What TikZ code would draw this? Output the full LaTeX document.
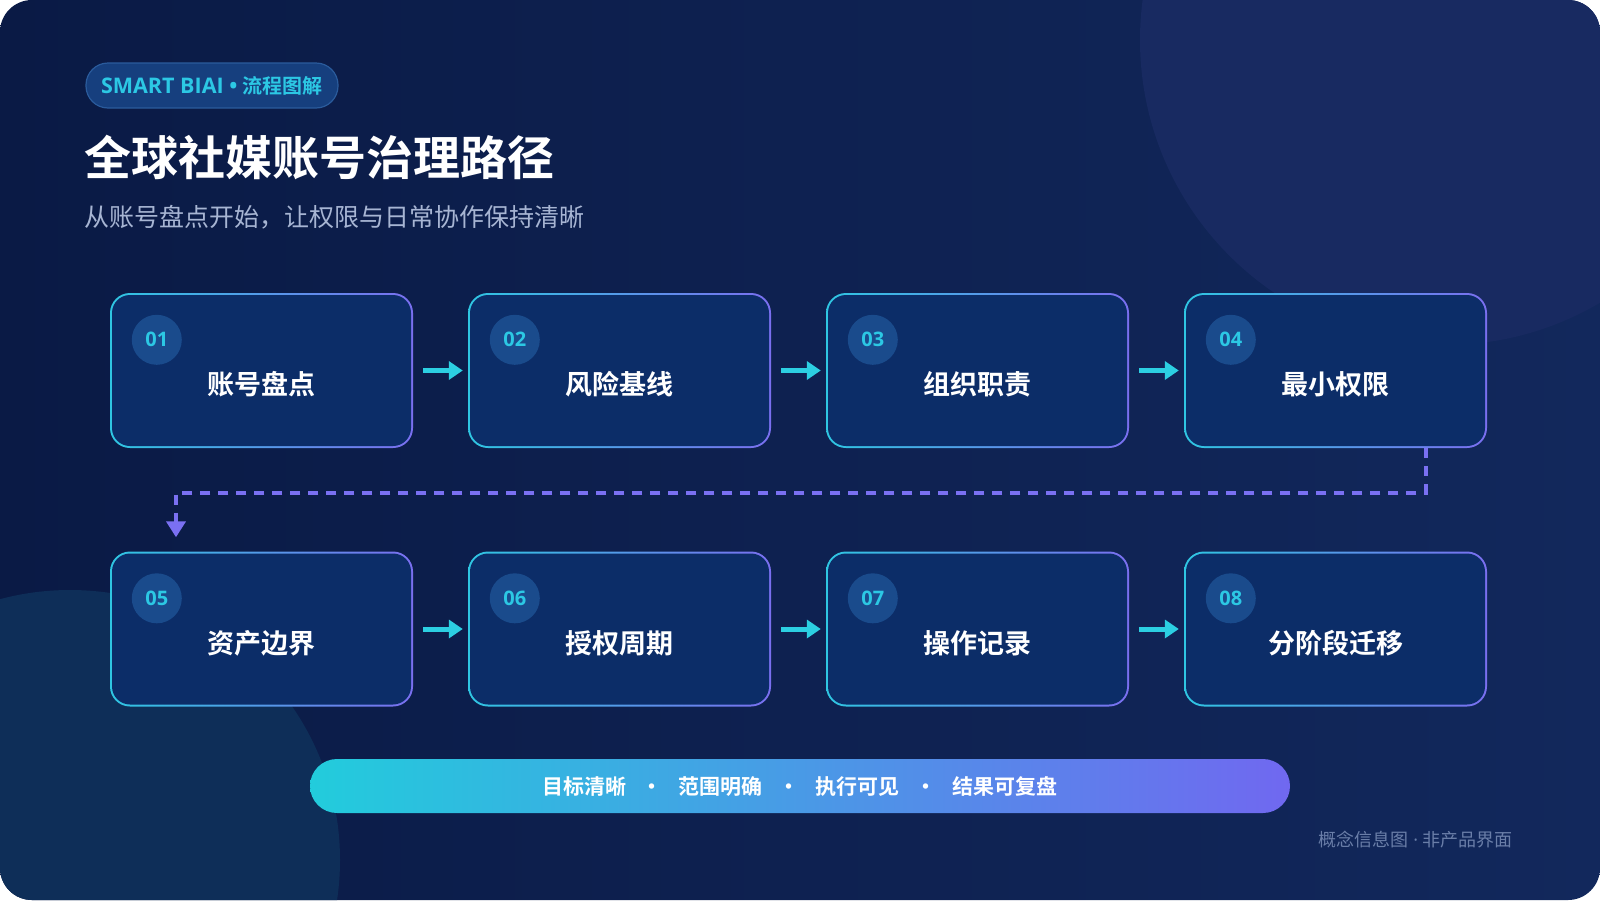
\documentclass[tikz,border=0pt]{standalone}
\usepackage{fontspec}
\setmainfont{Noto Sans CJK SC}[BoldFont={Noto Sans CJK SC Bold}]
\newfontfamily\numfont{Open Sans}
\usetikzlibrary{arrows.meta,positioning,calc}
\definecolor{bgA}{HTML}{0A1A45}
\definecolor{bgB}{HTML}{12285C}
\definecolor{glowA}{HTML}{182A61}
\definecolor{glowB}{HTML}{0E2E58}
\definecolor{cardfill}{HTML}{0C2D68}
\definecolor{edgeA}{HTML}{2FC6E2}
\definecolor{edgeB}{HTML}{7A6FF0}
\definecolor{badgefill}{HTML}{1A4B8C}
\definecolor{numcyan}{HTML}{2CC8E4}
\definecolor{arrowcyan}{HTML}{2CCFE2}
\definecolor{dashpurple}{HTML}{7A70F2}
\definecolor{barA}{HTML}{22CCDC}
\definecolor{barB}{HTML}{7068F0}
\definecolor{pillfill}{HTML}{163F7E}
\definecolor{pilledge}{HTML}{2A5B9C}
\definecolor{subgrey}{HTML}{A7B5D3}
\definecolor{footgrey}{HTML}{6A7EA8}
\tikzset{
  cardbox/.style={rounded corners=20pt, minimum width=303pt, minimum height=155pt,
    inner sep=0pt, left color=edgeA, right color=edgeB,
    path picture={\fill[cardfill, rounded corners=18pt]
      ([shift={(2pt,2pt)}]path picture bounding box.south west) rectangle
      ([shift={(-2pt,-2pt)}]path picture bounding box.north east);}},
  badge/.style={circle, fill=badgefill, minimum size=50pt, inner sep=0pt,
    text=numcyan, font=\numfont\bfseries\fontsize{20}{20}\selectfont},
  cardtitle/.style={text=white, inner sep=0pt, font=\bfseries\fontsize{27}{27}\selectfont},
  flowarrow/.style={-{Triangle[length=14pt,width=18pt]}, line width=5pt, arrowcyan},
  dashflow/.style={-{Triangle[length=16pt,width=19pt]}, line width=4pt,
    dash pattern=on 10pt off 8pt, dashpurple},
  tagbar/.style={rounded corners=27pt, minimum width=980pt, minimum height=54pt,
    left color=barA, right color=barB, text=white, font=\bfseries\fontsize{21}{21}\selectfont},
  pill/.style={rounded corners=22pt, minimum width=252pt, minimum height=45pt,
    fill=pillfill, draw=pilledge, line width=1.2pt, text=numcyan,
    font=\bfseries\fontsize{20}{20}\selectfont},
}
\newcommand{\flowcard}[4]{%
  \node[cardbox] (c#1) at (#2) {};
  \node[badge] (b#1) at ([shift={(47pt,-47pt)}]c#1.north west) {#3};
  \node[cardtitle] (t#1) at ([yshift=-14pt]c#1.center) {#4};
}
\newcommand{\sep}{\hspace{16pt}•\hspace{16pt}}

\begin{document}
\begin{tikzpicture}[x=1pt, y=-1pt]
  \useasboundingbox (0,0) rectangle (1600,900);
  % backdrop
  \begin{scope}
    \clip[rounded corners=32pt] (0,0) rectangle (1600,900);
    \shade[left color=bgA, right color=bgB] (0,0) rectangle (1600,900);
    \fill[glowA] (1445,40) circle (305pt);
    \fill[glowB] (70,860) circle (270pt);
  \end{scope}
  % heading
  \node[pill] (tag) at (212,85.5) {{\numfont\fontsize{21.5}{21.5}\selectfont SMART BIAI \textbullet\ }流程图解};
  \node[anchor=west, inner sep=0pt, text=white, font=\bfseries\fontsize{47}{47}\selectfont]
    (title) at (84,157) {全球社媒账号治理路径};
  \node[anchor=west, inner sep=0pt, text=subgrey, font=\fontsize{25}{25}\selectfont]
    (subtitle) at (84,217) {从账号盘点开始，让权限与日常协作保持清晰};
  % steps
  \flowcard{1}{261.5,370.5}{01}{账号盘点}
  \flowcard{2}{619.5,370.5}{02}{风险基线}
  \flowcard{3}{977.5,370.5}{03}{组织职责}
  \flowcard{4}{1335.5,370.5}{04}{最小权限}
  \flowcard{5}{261.5,629}{05}{资产边界}
  \flowcard{6}{619.5,629}{06}{授权周期}
  \flowcard{7}{977.5,629}{07}{操作记录}
  \flowcard{8}{1335.5,629}{08}{分阶段迁移}
  % connectors
  \draw[flowarrow] ([xshift=10pt]c1.east) -- ([xshift=-5pt]c2.west);
  \draw[flowarrow] ([xshift=10pt]c2.east) -- ([xshift=-5pt]c3.west);
  \draw[flowarrow] ([xshift=10pt]c3.east) -- ([xshift=-5pt]c4.west);
  \draw[flowarrow] ([xshift=10pt]c5.east) -- ([xshift=-5pt]c6.west);
  \draw[flowarrow] ([xshift=10pt]c6.east) -- ([xshift=-5pt]c7.west);
  \draw[flowarrow] ([xshift=10pt]c7.east) -- ([xshift=-5pt]c8.west);
  \coordinate (turn) at (176,493);
  \draw[dashflow] ([xshift=90pt]c4.south) |- (turn) -- ([xshift=-85.5pt,yshift=14pt]c5.north);
  % summary bar
  \node[tagbar] (bar) at (800,786) {目标清晰\sep 范围明确\sep 执行可见\sep 结果可复盘};
  \node[anchor=east, inner sep=0pt, text=footgrey, font=\fontsize{18}{18}\selectfont]
    (foot) at (1513,840) {概念信息图{\numfont\ · }非产品界面};
\end{tikzpicture}
\end{document}
